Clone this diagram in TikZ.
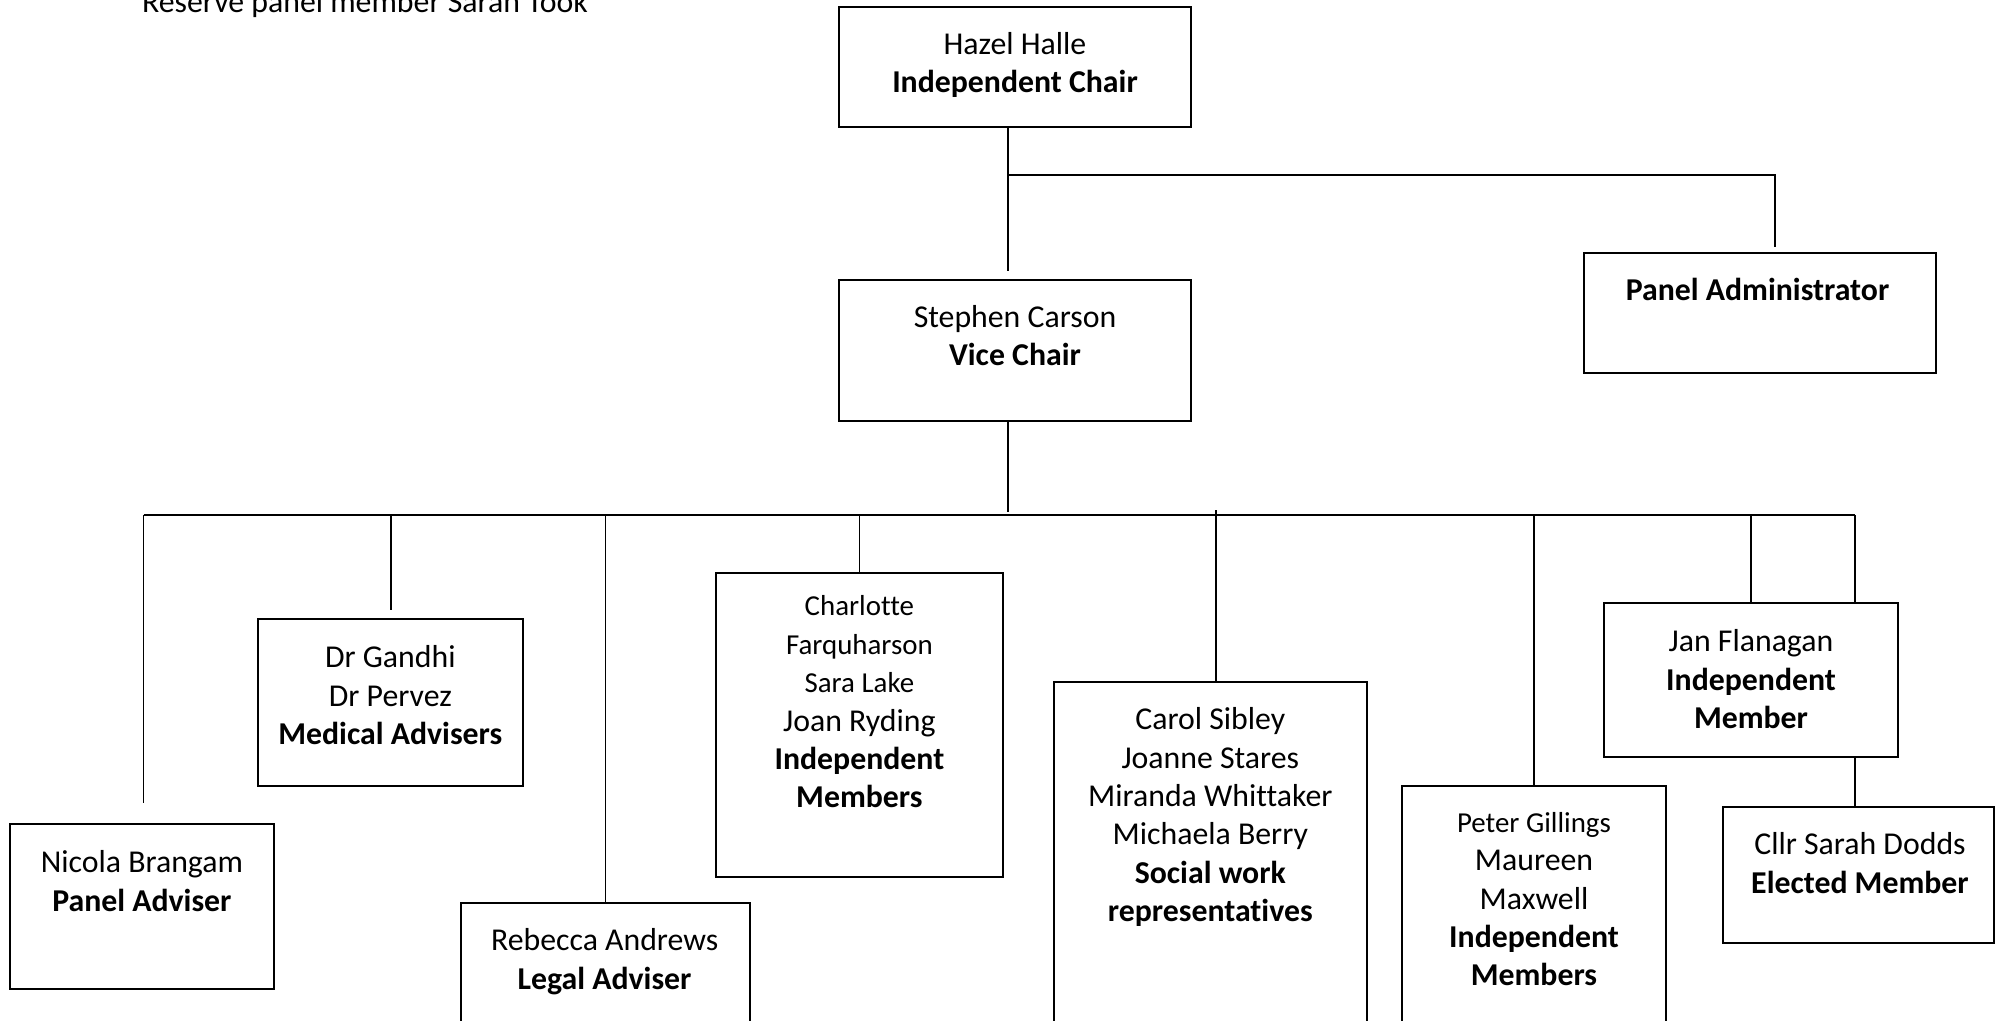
\documentclass[tikz,border=0pt]{standalone}
\usepackage{fontspec}
\setmainfont[Ligatures=NoCommon]{Carlito}
\usetikzlibrary{fit}
\newcommand\smallname{\fontsize{14.45}{19.2}\selectfont}
\begin{document}
\begin{tikzpicture}[x=0.5pt,y=-0.5pt,
  box/.style={draw=black,line width=1pt,inner sep=0pt,rectangle},
  txt/.style={align=center,inner sep=0pt,font=\fontsize{15.9}{19.2}\selectfont},
  conn/.style={draw=black,line width=0.85pt}]
\useasboundingbox (0,0) rectangle (1995,1021);

% boxes
\node[box,fit={(838.6,6.7) (1191.3,126.7)}] (hazel) {};
\node[box,fit={(838.6,280) (1191.3,420.7)}] (vice) {};
\node[box,fit={(1583.5,253) (1936,372.7)}] (admin) {};
\node[box,fit={(9.6,824) (274.2,989.3)}] (nicola) {};
\node[box,fit={(257.7,619.3) (523,786)}] (medical) {};
\node[box,fit={(461,903.3) (750,1040)}] (legal) {};
\node[box,fit={(716,573.3) (1002.7,876.7)}] (charlotte) {};
\node[box,fit={(1053.9,681.7) (1366.8,1040)}] (carol) {};
\node[box,fit={(1401.6,786) (1666.2,1040)}] (peter) {};
\node[box,fit={(1604.3,603.3) (1897.9,757.3)}] (jan) {};
\node[box,fit={(1723.3,807) (1994,943.3)}] (cllr) {};

% texts
\node[txt,anchor=base west] (reserve) at (141.7,12.7) {Reserve panel member Sarah Took};
\node[txt] (hazelT) at (1015,65.7) {Hazel Halle\strut\\\textbf{Independent Chair}\strut};
\node[txt] (viceT) at (1015,338.7) {Stephen Carson\strut\\\textbf{Vice Chair}\strut};
\node[txt] (adminT) at (1757.5,292.7) {\textbf{Panel Administrator}\strut};
\node[txt] (nicolaT) at (141.9,884.5) {Nicola Brangam\strut\\\textbf{Panel Adviser}\strut};
\node[txt] (medicalT) at (390.3,698.7) {Dr Gandhi\strut\\Dr Pervez\strut\\\textbf{Medical Advisers}\strut};
\node[txt] (legalT) at (604.6,962.2) {Rebecca Andrews\strut\\\textbf{Legal Adviser}\strut};
\node[txt] (charlotteT) at (859.4,704.2) {{\smallname Charlotte\strut}\\{\smallname Farquharson\strut}\\{\smallname Sara Lake\strut}\\Joan Ryding\strut\\\textbf{Independent}\strut\\\textbf{Members}\strut};
\node[txt] (carolT) at (1210.3,818) {Carol Sibley\strut\\Joanne Stares\strut\\Miranda Whittaker\strut\\Michaela Berry\strut\\\textbf{Social work}\strut\\\textbf{representatives}\strut};
\node[txt] (peterT) at (1534,901.4) {{\smallname Peter Gillings\strut}\\Maureen\strut\\Maxwell\strut\\\textbf{Independent}\strut\\\textbf{Members}\strut};
\node[txt] (janT) at (1751,682.7) {Jan Flanagan\strut\\\textbf{Independent}\strut\\\textbf{Member}\strut};
\node[txt] (cllrT) at (1860,866.4) {Cllr Sarah Dodds\strut\\\textbf{Elected Member}\strut};

% junction coordinates
\coordinate (jA) at (1007.7,175);
\coordinate (viceIn) at (1007.7,270.7);
\coordinate (adminTop) at (1775,247.3);
\coordinate (viceOut) at (1007.7,511.7);
\coordinate (busL) at (143.5,515);
\coordinate (busR) at (1855,515);
\coordinate (nicolaEnd) at (143.5,802.7);
\coordinate (medEnd) at (391,610);
\coordinate (carolC) at (1215.7,510);

% connectors
\draw[conn] (hazel.south -| jA) -- (viceIn);
\draw[conn] (jA) -| (adminTop);
\draw[conn] (vice.south -| jA) -- (viceOut);
\draw[conn] (busL) -- (busR);
\draw[conn] (busL) -- (nicolaEnd);
\draw[conn] (medEnd |- busL) -- (medEnd);
\draw[conn] (legal.north |- busL) -- (legal.north);
\draw[conn] (charlotte.north |- busL) -- (charlotte.north);
\draw[conn] (carolC) -- (carolC |- carol.north);
\draw[conn] (peter.north |- busL) -- (peter.north);
\draw[conn] (jan.north |- busL) -- (jan.north);
\draw[conn] (busR) -- (jan.north -| busR);
\draw[conn] (jan.south -| busR) -- (cllr.north -| busR);
\end{tikzpicture}
\end{document}
